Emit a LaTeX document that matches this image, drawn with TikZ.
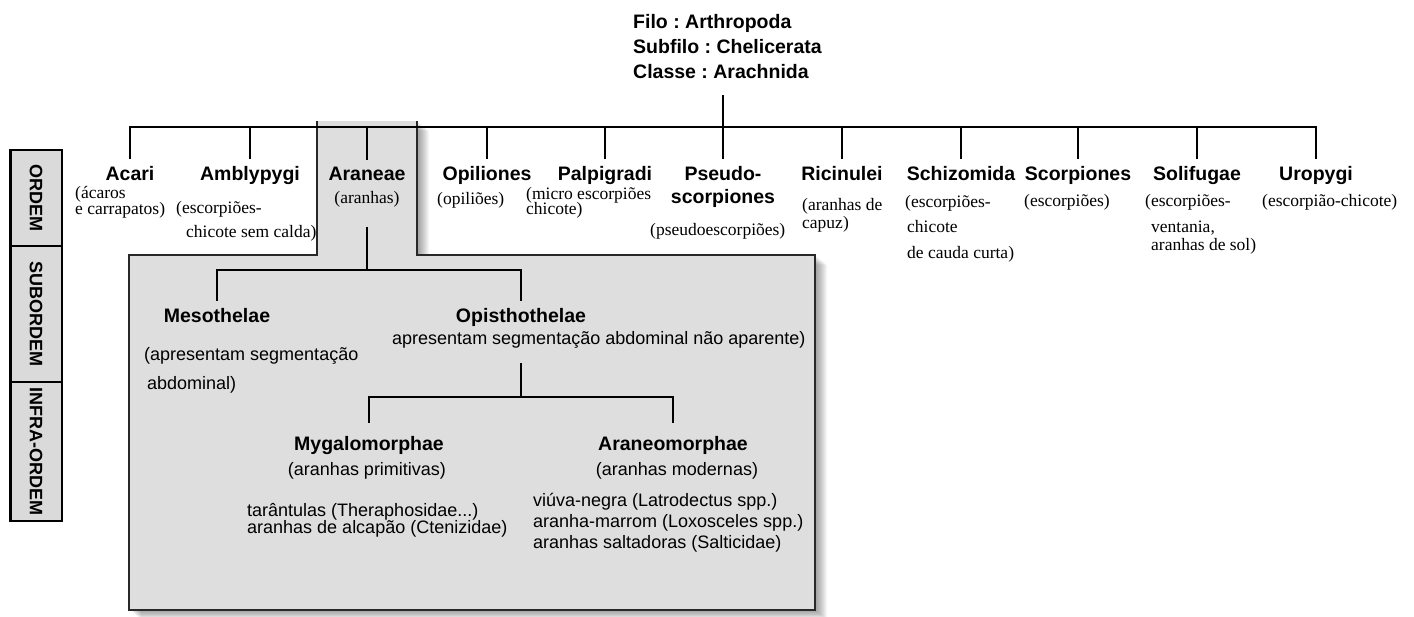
\documentclass[tikz,border=0pt]{standalone}
\usepackage{fontspec}
\setmainfont{Liberation Sans}
\newfontfamily\popfont{Liberation Serif}
\definecolor{boxgray}{RGB}{222,222,222}
\definecolor{rankgray}{RGB}{218,218,218}
\definecolor{edgegray}{RGB}{40,40,40}
\frenchspacing
\lineskiplimit=-100pt
\begin{document}
\begin{tikzpicture}[x=1pt,y=-1pt,
  tree/.style={line width=2.6pt,black},
  taxon/.style={font=\bfseries\fontsize{19.5}{23}\selectfont,inner sep=0pt,outer ysep=7pt,anchor=base},
  common/.style={font=\popfont\fontsize{17.5}{12}\selectfont,inner sep=0pt,anchor=base west,align=left},
  desc/.style={font=\fontsize{18}{17}\selectfont,inner sep=0pt,anchor=base west,align=left},
  rankcell/.style={draw,line width=2.5pt,fill=rankgray,rotate=-90,minimum height=51.5pt,inner sep=0pt,font=\bfseries\fontsize{18}{18}\selectfont},
  spiderbox/.style={insert path={(317,121) -- (317,255) -- (129,255) -- (129,610) -- (815,610) -- (815,255) -- (417,255) -- (417,121) -- cycle}}]
\path[use as bounding box,fill=white] (0,0) rectangle (1414,616);

% rank column
\node[rankcell,minimum width=96pt] (ordem) at (36,198) {ORDEM};
\node[rankcell,minimum width=136pt] (subordem) at (36,314) {SUBORDEM};
\node[rankcell,minimum width=139pt] (infraordem) at (36,451.5) {INFRA-ORDEM};

% grey box for Araneae
\foreach \s in {1,...,12}
  \fill[black,opacity=0.035,shift={(\s,\s*0.8)},spiderbox];
\fill[boxgray,spiderbox];
\draw[edgegray,line width=2pt] (317,121) -- (317,255) -- (129,255) -- (129,610) -- (815,610) -- (815,255) -- (417,255) -- (417,121);

\node[font=\bfseries\fontsize{19.5}{25}\selectfont,align=left,inner sep=0pt,outer ysep=17pt,anchor=base west] (phylum) at (633,78)
  {Filo : Arthropoda\\Subfilo : Chelicerata\\Classe : Arachnida};
\coordinate (bus) at (723,127);

\node[taxon] (acari) at (130,180) {Acari};
\node[taxon] (amblypygi) at (250,180) {Amblypygi};
\node[taxon] (araneae) at (367,180) {Araneae};
\node[taxon] (opiliones) at (487,180) {Opiliones};
\node[taxon] (palpigradi) at (605,180) {Palpigradi};
\node[taxon,align=center] (pseudo) at (723,203) {Pseudo-\\scorpiones};
\node[taxon] (ricinulei) at (842,180) {Ricinulei};
\node[taxon] (schizomida) at (961,180) {Schizomida};
\node[taxon] (scorpiones) at (1078,180) {Scorpiones};
\node[taxon] (solifugae) at (1197,180) {Solifugae};
\node[taxon] (uropygi) at (1316,180) {Uropygi};

\draw[tree] (phylum.south -| bus) -- (bus);
\draw[tree] (acari.north) |- (bus) -| (uropygi.north);
\foreach \t in {amblypygi,araneae,opiliones,palpigradi,pseudo,ricinulei,schizomida,scorpiones,solifugae}
  \draw[tree] (\t |- bus) -- (\t.north);

\node[common] (acarisub) at (75,214) {(ácaros\\[4pt]e carrapatos)};
\node[common] (amblypygisub) at (176,237) {(escorpiões-\\[12pt]\hspace{10pt}chicote sem calda)};
\node[common,anchor=base] (araneaesub) at (367,203) {(aranhas)};
\node[common] (opilionessub) at (437,204) {(opiliões)};
\node[common] (palpigradisub) at (526,214) {(micro escorpiões\\[3pt]chicote)};
\node[common] (pseudosub) at (650,235) {(pseudoescorpiões)};
\node[common] (ricinuleisub) at (802,228) {(aranhas de\\[6pt]capuz)};
\node[common] (schizomidasub) at (905,258) {(escorpiões-\\[13pt]\hspace{2pt}chicote\\[14pt]\hspace{2pt}de cauda curta)};
\node[common] (scorpionessub) at (1024,206) {(escorpiões)};
\node[common] (solifugaesub) at (1145,250) {(escorpiões-\\[14pt]\hspace{6pt}ventania,\\[6pt]\hspace{6pt}aranhas de sol)};
\node[common] (uropygisub) at (1262,206) {(escorpião-chicote)};

% suborders
\coordinate (subfork) at (367,270);
\node[taxon] (meso) at (217,322) {Mesothelae};
\node[taxon] (opis) at (521,322) {Opisthothelae};
\node[desc] (mesodesc) at (144,389) {(apresentam segmentação\\[12pt]\hspace{3pt}abdominal)};
\node[desc] (opisdesc) at (392,344) {apresentam segmentação abdominal não aparente)};
\draw[tree] (araneaesub.south) ++(0,20) -- (subfork);
\draw[tree] (meso.north) |- (subfork) -| (opis.north);

% infraorders
\coordinate (infrafork) at (521,397);
\node[taxon,outer ysep=13pt] (mygalo) at (369,450) {Mygalomorphae};
\node[taxon,outer ysep=13pt] (araneo) at (673,450) {Araneomorphae};
\node[desc,anchor=base] (mygalosub) at (367,475) {(aranhas primitivas)};
\node[desc,anchor=base] (araneosub) at (677,475) {(aranhas modernas)};
\node[desc,font=\fontsize{18}{16.6}\selectfont] (mygalolist) at (247,533) {tarântulas (Theraphosidae...)\\aranhas de alcapão (Ctenizidae)};
\node[desc,font=\fontsize{18}{20.6}\selectfont] (araneolist) at (533,548) {viúva-negra (Latrodectus spp.)\\aranha-marrom (Loxosceles spp.)\\aranhas saltadoras (Salticidae)};
\draw[tree] (opisdesc.south -| infrafork) ++(0,15) -- (infrafork);
\draw[tree] (mygalo.north) |- (infrafork) -| (araneo.north);
\end{tikzpicture}
\end{document}
